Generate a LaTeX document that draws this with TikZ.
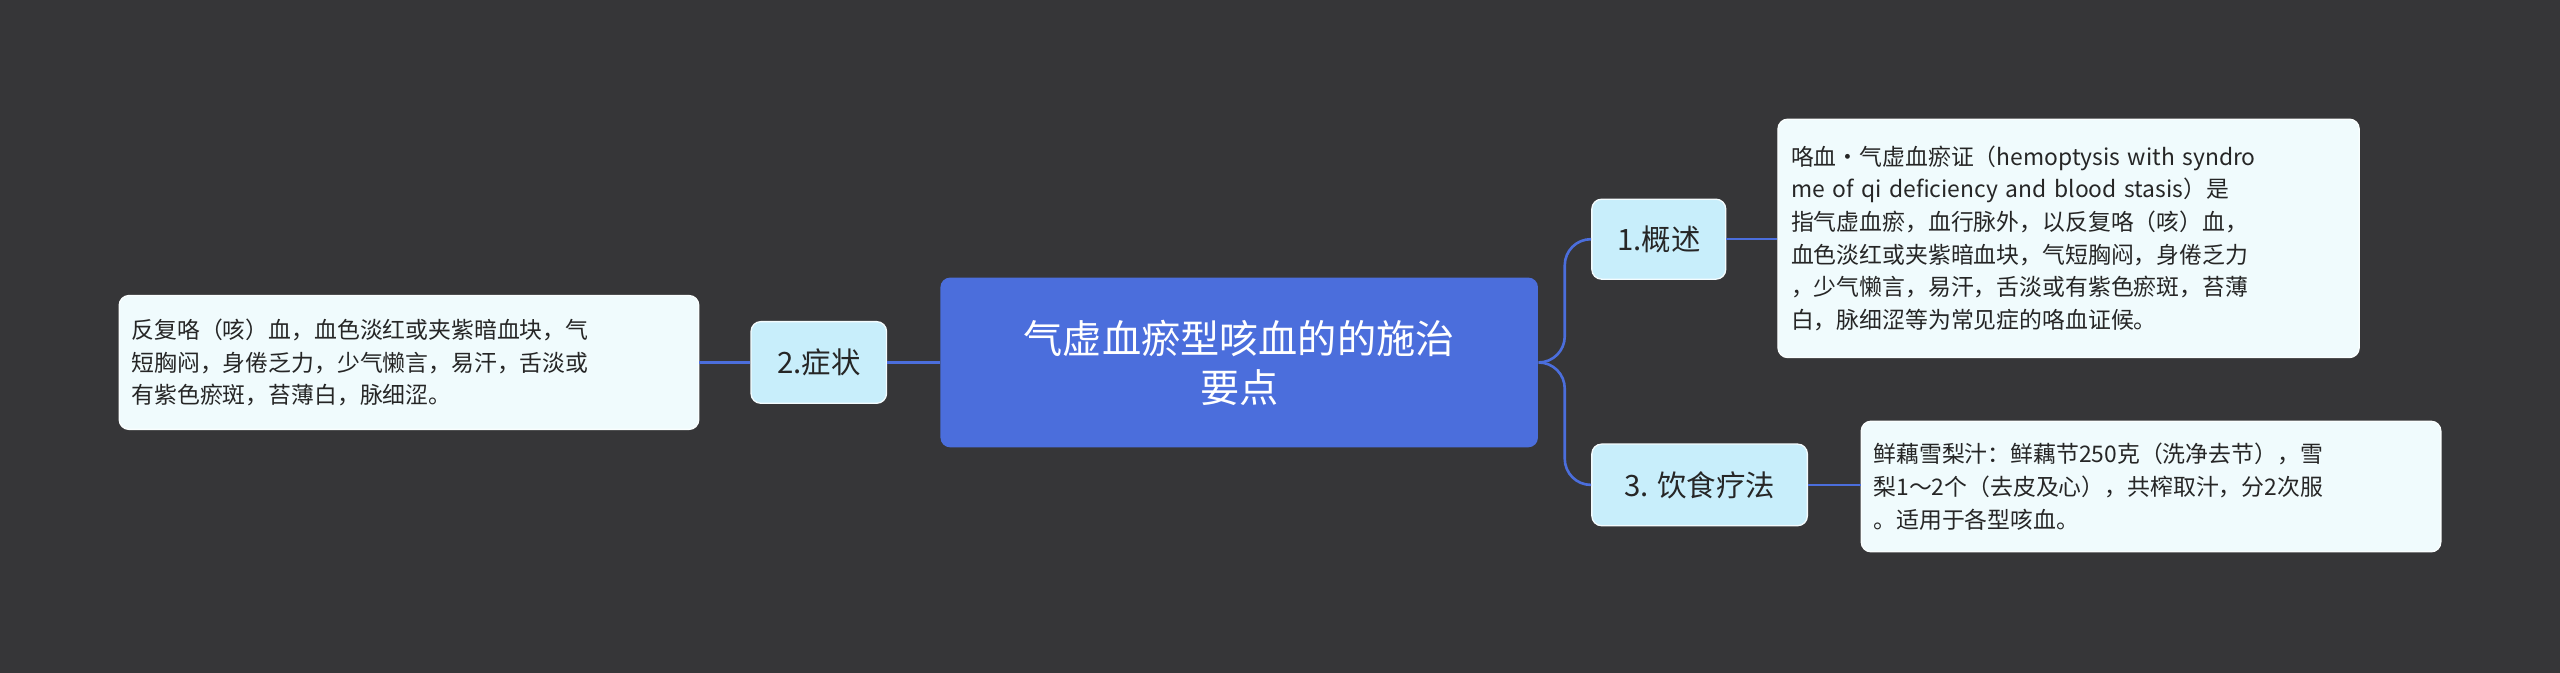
\documentclass[tikz,border=0pt]{standalone}
\usepackage{fontspec}
\setmainfont{Noto Sans CJK SC}
\begin{document}
\begin{tikzpicture}[x=0.5pt,y=-0.5pt]
\definecolor{bg}{RGB}{54,54,56}
\definecolor{mainblue}{RGB}{75,110,220}
\definecolor{sub}{RGB}{200,238,251}
\definecolor{leaf}{RGB}{240,251,253}
\tikzset{
 mainbox/.style={fill=mainblue,rounded corners=3pt,text=white,font=\fontsize{12}{15}\selectfont,align=center,inner sep=0pt},
 subbox/.style={fill=sub,draw=white!80!sub,rounded corners=3pt,text=black!85,font=\fontsize{9}{11}\selectfont,inner sep=0pt},
 leafbox/.style={fill=leaf,draw=white!70!leaf,rounded corners=3pt,text=black!85,font=\fontsize{7}{10}\selectfont,align=left,inner sep=0pt},
 link/.style={draw=mainblue,line width=0.8pt}
}
\fill[bg] (0,0) rectangle (1568,412);
\node[mainbox,minimum width=183pt,minimum height=52pt] (c) at (759,222) {气虚血瘀型咳血的的施治\\要点};
\node[subbox,minimum width=41.5pt,minimum height=25pt] (s2) at (501.5,222) {2.症状};
\node[leafbox,minimum width=177.5pt,minimum height=41pt,text width=170pt] (l2) at (250.5,222) {反复咯（咳）血，血色淡红或夹紫暗血块，气\\短胸闷，身倦乏力，少气懒言，易汗，舌淡或\\有紫色瘀斑，苔薄白，脉细涩。};
\node[subbox,minimum width=41pt,minimum height=24.5pt] (s1) at (1016,146.5) {1.概述};
\node[subbox,minimum width=66pt,minimum height=25pt] (s3) at (1041,297) {3. 饮食疗法};
\node[leafbox,minimum width=178pt,minimum height=73pt,text width=170pt] (l1) at (1267,146) {咯血·气虚血瘀证（hemoptysis with syndro\\me of qi deficiency and blood stasis）是\\指气虚血瘀，血行脉外，以反复咯（咳）血，\\血色淡红或夹紫暗血块，气短胸闷，身倦乏力\\，少气懒言，易汗，舌淡或有紫色瘀斑，苔薄\\白，脉细涩等为常见症的咯血证候。};
\node[leafbox,minimum width=177.5pt,minimum height=40pt,text width=170pt] (l3) at (1317.5,298) {鲜藕雪梨汁：鲜藕节250克（洗净去节），雪\\梨1～2个（去皮及心），共榨取汁，分2次服\\。适用于各型咳血。};
\draw[link] (c.west) -- (s2.east);
\draw[link] (s2.west) -- (l2.east);
\draw[link,rounded corners=8pt] (c.east) -- ++(16,0) |- (s1.west);
\draw[link,rounded corners=8pt] (c.east) -- ++(16,0) |- (s3.west);
\draw[link] (s1.east) -- (s1.east -| l1.west);
\draw[link] (s3.east) -- (s3.east -| l3.west);
\end{tikzpicture}
\end{document}
